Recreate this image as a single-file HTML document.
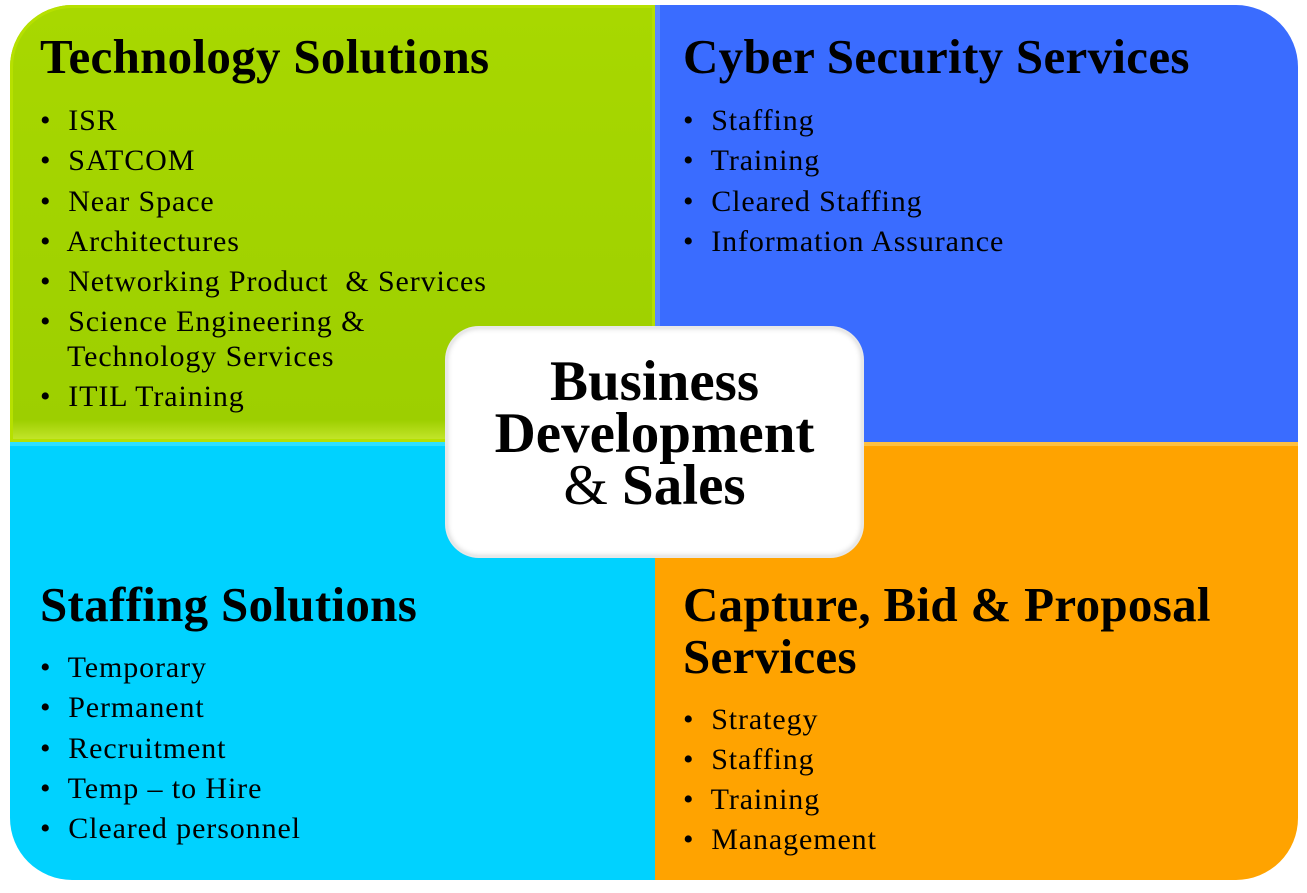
<!DOCTYPE html>
<html><head><meta charset="utf-8"><style>
body{margin:0;width:1307px;height:893px;background:#fff;position:relative;overflow:hidden;font-family:"Liberation Serif",serif;}
.q{position:absolute;box-sizing:border-box;}
.t{position:absolute;white-space:nowrap;color:#000;}
.h{font-weight:bold;font-size:49px;letter-spacing:0.3px;}
.i{font-size:30px;letter-spacing:0.9px;}
</style></head><body>
<div class="q" style="left:10px;top:5px;width:645px;height:437px;background:linear-gradient(#a8d800,#9dcf00 95%,#c8e830);border-radius:62px 0 0 0;box-shadow:inset 0 0 0 3px #b6e000;"></div>
<div class="q" style="left:655px;top:5px;width:643px;height:437px;background:#3a6cff;border-radius:0 62px 0 0;box-shadow:inset 5px 0 0 #5a88ff;"></div>
<div class="q" style="left:10px;top:442px;width:645px;height:438px;background:#00d2ff;border-radius:0 0 0 62px;box-shadow:inset 0 4px 0 #2ee0ff;"></div>
<div class="q" style="left:655px;top:442px;width:643px;height:438px;background:#ffa300;border-radius:0 0 62px 0;box-shadow:inset 0 4px 0 #ffc040;"></div>

<div class="t h" style="left:40px;top:28px;">Technology Solutions</div>
<div class="t h" style="left:683px;top:28px;">Cyber Security Services</div>
<div class="t h" style="left:40px;top:576px;">Staffing Solutions</div>
<div class="t h" style="left:683px;top:576px;">Capture, Bid &amp; Proposal</div>
<div class="t h" style="left:683px;top:628px;">Services</div>

<div class="t i" style="left:40px;top:104px;">•&nbsp; ISR</div>
<div class="t i" style="left:40px;top:144px;">•&nbsp; SATCOM</div>
<div class="t i" style="left:40px;top:185px;">•&nbsp; Near Space</div>
<div class="t i" style="left:40px;top:225px;">•&nbsp; Architectures</div>
<div class="t i" style="left:40px;top:265px;">•&nbsp; Networking Product &nbsp;&amp; Services</div>
<div class="t i" style="left:40px;top:305px;">•&nbsp; Science Engineering &amp;</div>
<div class="t i" style="left:67px;top:340px;">Technology Services</div>
<div class="t i" style="left:40px;top:380px;">•&nbsp; ITIL Training</div>

<div class="t i" style="left:683px;top:104px;">•&nbsp; Staffing</div>
<div class="t i" style="left:683px;top:144px;">•&nbsp; Training</div>
<div class="t i" style="left:683px;top:185px;">•&nbsp; Cleared Staffing</div>
<div class="t i" style="left:683px;top:225px;">•&nbsp; Information Assurance</div>

<div class="t i" style="left:40px;top:651px;">•&nbsp; Temporary</div>
<div class="t i" style="left:40px;top:691px;">•&nbsp; Permanent</div>
<div class="t i" style="left:40px;top:732px;">•&nbsp; Recruitment</div>
<div class="t i" style="left:40px;top:772px;">•&nbsp; Temp – to Hire</div>
<div class="t i" style="left:40px;top:812px;">•&nbsp; Cleared personnel</div>

<div class="t i" style="left:683px;top:703px;">•&nbsp; Strategy</div>
<div class="t i" style="left:683px;top:743px;">•&nbsp; Staffing</div>
<div class="t i" style="left:683px;top:783px;">•&nbsp; Training</div>
<div class="t i" style="left:683px;top:823px;">•&nbsp; Management</div>

<div class="q" style="left:447px;top:328px;width:415px;height:228px;background:#fff;border-radius:32px;box-shadow:0 0 0 2px #e8e8e8, inset 0 0 6px rgba(0,0,0,0.2);"></div>
<div class="t" style="left:447px;top:356px;width:415px;text-align:center;font-weight:bold;font-size:57px;line-height:52px;white-space:normal;">Business<br>Development<br><span style="font-weight:normal">&amp;</span> Sales</div>
</body></html>
